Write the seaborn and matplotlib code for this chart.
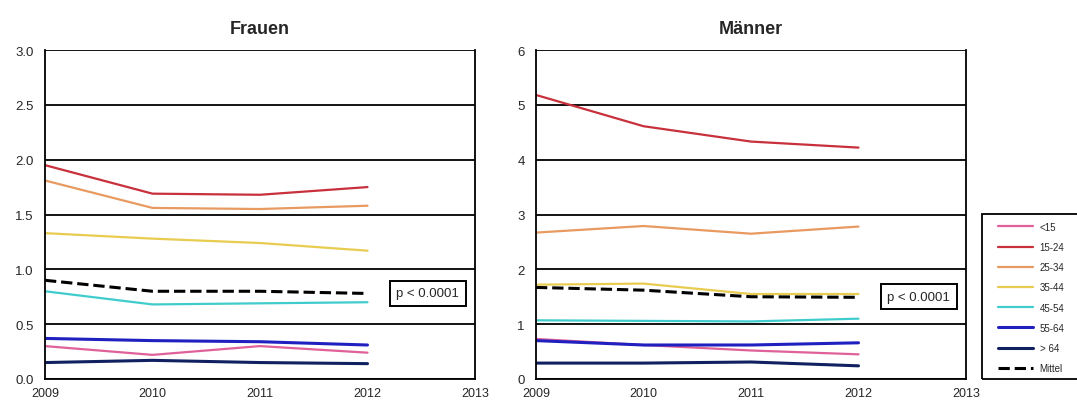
import numpy as np
import pandas as pd
import matplotlib
matplotlib.use("Agg")
import matplotlib.pyplot as plt
from matplotlib.patches import Rectangle
import seaborn as sns

years = [2009, 2010, 2011, 2012]
groups = ['<15', '15-24', '25-34', '35-44', '45-54', '55-64', '> 64', 'Mittel']

frauen = {
    '<15':    [0.30, 0.22, 0.30, 0.24],
    '15-24':  [1.95, 1.69, 1.68, 1.75],
    '25-34':  [1.81, 1.56, 1.55, 1.58],
    '35-44':  [1.33, 1.28, 1.24, 1.17],
    '45-54':  [0.80, 0.68, 0.69, 0.70],
    '55-64':  [0.37, 0.35, 0.34, 0.31],
    '> 64':   [0.15, 0.17, 0.15, 0.14],
    'Mittel': [0.90, 0.80, 0.80, 0.78],
}
maenner = {
    '<15':    [0.73, 0.62, 0.52, 0.45],
    '15-24':  [5.18, 4.61, 4.33, 4.22],
    '25-34':  [2.67, 2.79, 2.65, 2.78],
    '35-44':  [1.72, 1.74, 1.55, 1.55],
    '45-54':  [1.07, 1.06, 1.05, 1.10],
    '55-64':  [0.70, 0.62, 0.62, 0.66],
    '> 64':   [0.29, 0.29, 0.31, 0.24],
    'Mittel': [1.67, 1.62, 1.50, 1.49],
}

colors = {
    '<15': '#e0609a', '15-24': '#c8303c', '25-34': '#e89a60', '35-44': '#e8cc50',
    '45-54': '#40cccc', '55-64': '#2020c0', '> 64': '#102060', 'Mittel': 'black',
}
widths = {'55-64': 2.2, '> 64': 2.2, 'Mittel': 2.2}


def to_long(d):
    rows = []
    for g in groups:
        for y, v in zip(years, d[g]):
            rows.append({'Jahr': y, 'Wert': v, 'Gruppe': g})
    return pd.DataFrame(rows)


sns.set_style("white")
plt.rcParams['font.family'] = ['Liberation Sans', 'DejaVu Sans']

W, H = 1077, 402
fig = plt.figure(figsize=(W / 100, H / 100), dpi=100)
ax1 = fig.add_axes([45 / W, 1 - 380 / H, 430 / W, 329 / H])
ax2 = fig.add_axes([536 / W, 1 - 380 / H, 430 / W, 329 / H])

panels = [(ax1, frauen, 'Frauen', 3.0, 0.5, '%.1f', 0.78),
          (ax2, maenner, 'Männer', 6, 1, '%d', 1.50)]

for ax, d, title, ymax, step, fmt, pval_y in panels:
    df = to_long(d)
    for g in groups:
        sub = df[df['Gruppe'] == g]
        sns.lineplot(data=sub, x='Jahr', y='Wert', ax=ax, color=colors[g],
                     lw=widths.get(g, 1.6), label=g,
                     linestyle='--' if g == 'Mittel' else '-',
                     dashes=(4, 3) if g == 'Mittel' else None)
    ax.set_xlim(2009, 2013)
    ax.set_ylim(0, ymax)
    ax.set_xticks([2009, 2010, 2011, 2012, 2013])
    ticks = np.arange(0, ymax + step / 2, step)
    ax.set_yticks(ticks)
    ax.set_yticklabels([fmt % t for t in ticks])
    ax.yaxis.grid(True, color='black', lw=1.3)
    ax.set_axisbelow(True)
    for s in ['left', 'bottom', 'right']:
        ax.spines[s].set_color('black')
        ax.spines[s].set_linewidth(1.3)
    ax.spines['top'].set_visible(False)
    ax.tick_params(axis='both', labelsize=9.5, length=4, width=1.2, color='black',
                   direction='out', pad=4)
    ax.tick_params(axis='x', labelsize=9, pad=1.5)
    ax.set_xlabel('')
    ax.set_ylabel('')
    ax.set_title(title, fontsize=13, fontweight='bold', pad=12)
    ax.get_legend().remove()
    ax.text(2012.56, pval_y, 'p < 0.0001', fontsize=9.5, ha='center', va='center',
            bbox=dict(boxstyle='square,pad=0.5', fc='white', ec='black', lw=1.4))

# legend frame runs off the right edge of the picture
fig.patches.append(Rectangle((982 / W, 1 - 380 / H), 110 / W, 165 / H,
                             transform=fig.transFigure, fill=False,
                             ec='black', lw=1.3))
handles, labels = ax2.get_legend_handles_labels()
leg = fig.legend(handles, labels, loc='upper left',
                 bbox_to_anchor=(990 / W, 1 - 215 / H),
                 fontsize=7, frameon=False, handlelength=3.6,
                 handletextpad=0.7, labelspacing=1.05, borderpad=0.3)

fig.savefig('out.png', dpi=100)
